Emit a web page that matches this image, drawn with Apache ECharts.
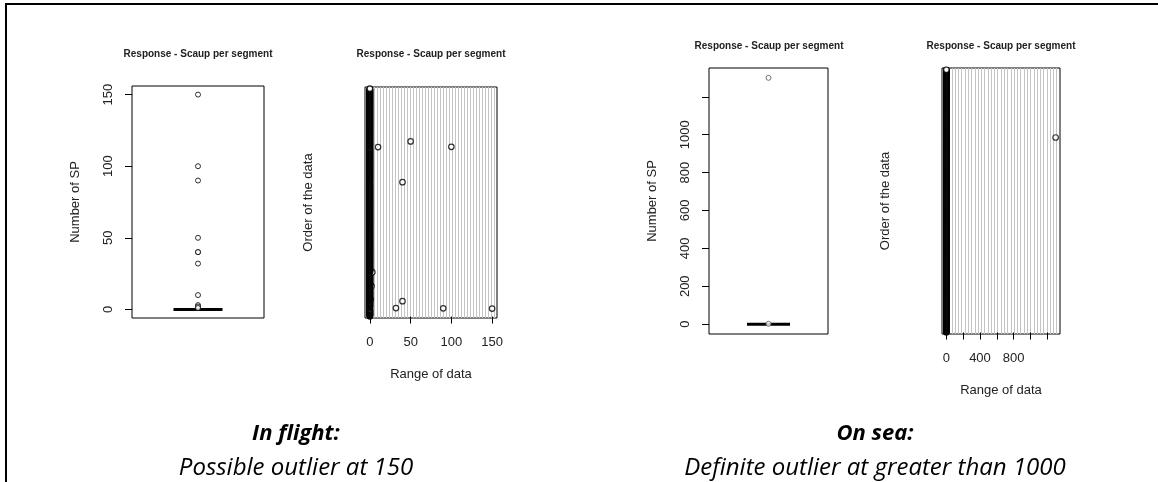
<!DOCTYPE html>
<html><head><meta charset="utf-8">
<script src="https://cdn.jsdelivr.net/npm/echarts@6/dist/echarts.min.js"></script>
<style>html,body{margin:0;padding:0;background:#fff}#c{width:1158px;height:482px}</style>
</head><body><div id="c"></div>
<script>
// ---------- DATA ----------
// In flight: number of scaup per segment
const flightBoxStats = [0, 0, 0, 0, 0];               // lower whisker, Q1, median, Q3, upper whisker
const flightOutlierValues = [150, 100, 90, 50, 40, 40, 32, 10, 3, 2, 1];
const flightOutlierOrder  = [28, 596, 29, 615, 54, 472, 30, 595, 156, 107, 60];
const flightSegmentCount = 800;                        // every other segment holds 0 scaup
const flightTicks = [0, 50, 100, 150];

// On sea
const seaBoxStats = [0, 0, 0, 0, 0];
const seaOutlierValues = [1300, 2];
const seaOutlierOrder  = [668, 300];
const seaSegmentCount = 900;
const seaTicks = [0, 200, 400, 600, 800, 1000, 1200];
const seaBoxLabels = [0, 200, 400, 600, 800, 1000];
const seaDotLabels = [0, 400, 800];

const panelTitle = 'Response - Scaup per segment';
const boxCategory = ['Scaup'];

// ---------- BUILD ----------
function orderedObservations(count, values, orders) {
  const obs = new Array(count).fill(0);
  orders.forEach((o, i) => { obs[o - 1] = values[i]; });
  return obs.map((v, i) => [v, i + 1]);
}
const flightDots = orderedObservations(flightSegmentCount, flightOutlierValues, flightOutlierOrder);
const seaDots = orderedObservations(seaSegmentCount, seaOutlierValues, seaOutlierOrder);

const AX = { fontFamily: '"Liberation Sans", Arial, sans-serif', fontSize: 13, color: '#222' };
const gridBase = { show: true, borderColor: '#000', borderWidth: 1, backgroundColor: 'transparent', containLabel: false, outerBoundsMode: 'none' };

const hiddenCat = (gi) => ({ gridIndex: gi, type: 'category', data: boxCategory, show: false });
const stripes = (gi, n) => ({
  gridIndex: gi, type: 'value', position: 'top', min: 0, max: n, interval: 1,
  axisLine: { show: false }, axisTick: { show: false }, axisLabel: { show: false },
  splitLine: { show: true, showMinLine: false, showMaxLine: false, lineStyle: { color: '#c4c4c4', width: 1 } }
});
const valueAxis = (gi, min, max, ticks, labels, name, isY) => ({
  gridIndex: gi, type: 'value', min: min, max: max,
  axisLine: { show: false }, splitLine: { show: false },
  axisTick: { show: true, length: 7, customValues: ticks, lineStyle: { color: '#000' } },
  axisLabel: Object.assign({ customValues: labels, margin: isY ? 17 : 18, rotate: isY ? 90 : 0,
    formatter: v => String(v) }, AX),
  name: name, nameLocation: 'middle', nameGap: 50, nameRotate: isY ? 90 : 0, nameTextStyle: AX
});
const orderAxis = (gi, n) => ({
  gridIndex: gi, type: 'value', min: -5, max: n + 6,
  axisLine: { show: false }, axisTick: { show: false }, axisLabel: { show: false }, splitLine: { show: false },
  name: 'Order of the data', nameLocation: 'middle', nameGap: 50, nameRotate: 90, nameTextStyle: AX
});

const circle = (stroke) => ({ color: '#fff', borderColor: stroke, borderWidth: 1 });

const option = {
  animation: false,
  backgroundColor: '#fff',
  grid: [
    Object.assign({ left: 132, top: 86, width: 132, height: 232 }, gridBase),
    Object.assign({ left: 365, top: 87, width: 132, height: 231 }, gridBase),
    Object.assign({ left: 709, top: 68, width: 119, height: 266 }, gridBase),
    Object.assign({ left: 942, top: 68, width: 118, height: 266 }, gridBase)
  ],
  xAxis: [
    hiddenCat(0),
    valueAxis(1, -6, 156, flightTicks, flightTicks, 'Range of data', false),
    stripes(1, 44),
    hiddenCat(2),
    valueAxis(3, -52, 1352, seaTicks, seaDotLabels, 'Range of data', false),
    stripes(3, 36)
  ],
  yAxis: [
    valueAxis(0, -6, 156, flightTicks, flightTicks, 'Number of SP', true),
    orderAxis(1, flightSegmentCount),
    valueAxis(2, -52, 1352, seaTicks, seaBoxLabels, 'Number of SP', true),
    orderAxis(3, seaSegmentCount)
  ],
  series: [
    { type: 'boxplot', xAxisIndex: 0, yAxisIndex: 0, data: [flightBoxStats], boxWidth: [49, 49],
      itemStyle: { color: '#fff', borderColor: '#000', borderWidth: 3 }, silent: true },
    { type: 'scatter', xAxisIndex: 0, yAxisIndex: 0, symbol: 'circle', symbolSize: 5,
      data: flightOutlierValues.map(v => [boxCategory[0], v]), itemStyle: circle('#000'), silent: true },
    { type: 'scatter', xAxisIndex: 1, yAxisIndex: 1, symbol: 'circle', symbolSize: 5.5,
      data: flightDots, itemStyle: { color: '#fff', borderColor: '#000', borderWidth: 1.2 }, silent: true },
    { type: 'boxplot', xAxisIndex: 3, yAxisIndex: 2, data: [seaBoxStats], boxWidth: [43, 43],
      itemStyle: { color: '#fff', borderColor: '#000', borderWidth: 3 }, silent: true },
    { type: 'scatter', xAxisIndex: 3, yAxisIndex: 2, symbol: 'circle', symbolSize: 5,
      data: seaOutlierValues.map(v => [boxCategory[0], v]), itemStyle: circle('#555'), silent: true },
    { type: 'scatter', xAxisIndex: 4, yAxisIndex: 3, symbol: 'circle', symbolSize: 5.5,
      data: seaDots, itemStyle: { color: '#fff', borderColor: '#000', borderWidth: 1.2 }, silent: true }
  ],
  graphic: [
    { type: 'line', shape: { x1: 5, y1: 4, x2: 1158, y2: 4 }, style: { stroke: '#000', lineWidth: 2 } },
    { type: 'line', shape: { x1: 6, y1: 3, x2: 6, y2: 482 }, style: { stroke: '#000', lineWidth: 2 } }
  ].concat([[198, 54], [431, 54], [769, 46], [1001, 46]].map(p => ({
    type: 'text', x: p[0], y: p[1],
    style: { text: panelTitle, font: 'bold 10px "Liberation Sans", Arial, sans-serif', fill: '#222',
      align: 'center', verticalAlign: 'middle', textAlign: 'center', textVerticalAlign: 'middle' }
  }))).concat([
    ['In flight:', 296, 434, 'italic bold 22px "Open Sans", sans-serif'],
    ['Possible outlier at 150', 296, 468, 'italic 24px "Open Sans", sans-serif'],
    ['On sea:', 875, 434, 'italic bold 22px "Open Sans", sans-serif'],
    ['Definite outlier at greater than 1000', 875, 468, 'italic 24px "Open Sans", sans-serif']
  ].map(t => ({
    type: 'text', x: t[1], y: t[2],
    style: { text: t[0], font: t[3], fill: '#000',
      align: 'center', verticalAlign: 'middle', textAlign: 'center', textVerticalAlign: 'middle' }
  })))
};

const chart = echarts.init(document.getElementById('c'), null, { renderer: 'canvas' });
chart.setOption(option);
</script>
</body></html>
